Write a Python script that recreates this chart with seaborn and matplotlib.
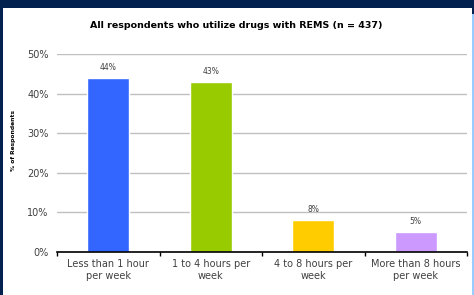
import matplotlib
matplotlib.use("Agg")
import matplotlib.pyplot as plt
import pandas as pd
import seaborn as sns
from matplotlib.patches import Rectangle

categories = ["Less than 1 hour\nper week", "1 to 4 hours per\nweek",
              "4 to 8 hours per\nweek", "More than 8 hours\nper week"]
percents = [44, 43, 8, 5]
colors = ["#3366FF", "#99CC00", "#FFCC00", "#CC99FF"]
y_ticks = [0, 10, 20, 30, 40, 50]
title = "All respondents who utilize drugs with REMS (n = 437)"

df = pd.DataFrame({"category": categories, "percent": percents})

sns.set_style("white")
plt.rcParams["font.family"] = ["DejaVu Sans"]

fig = plt.figure(figsize=(4.74, 2.95), dpi=100)
fig.patch.set_facecolor("#03214F")
# white slide panel and light blue strip on the right
fig.patches.append(Rectangle((3 / 474, 0), 469 / 474, 287 / 295,
                             transform=fig.transFigure, facecolor="white",
                             edgecolor="none", zorder=-5))
fig.patches.append(Rectangle((472 / 474, 0), 2 / 474, 281 / 295,
                             transform=fig.transFigure, facecolor="#99CCFF",
                             edgecolor="none", zorder=-5))

ax = fig.add_axes([57 / 474, 43 / 295, 410 / 474, 198 / 295])
ax.set_zorder(2)
ax.set_facecolor("none")
sns.barplot(data=df, x="category", y="percent", hue="category",
            palette=colors, saturation=1, width=0.41, legend=False,
            ax=ax, zorder=3)

ax.set_ylim(0, 50)
ax.set_xlim(-0.5, 3.5)
ax.set_yticks(y_ticks)
ax.set_yticklabels([f"{t}%" for t in y_ticks], fontsize=7, color="#404040")
ax.yaxis.grid(True, color="#C0C0C0", linewidth=1)
ax.set_axisbelow(True)
ax.tick_params(axis="y", length=0, pad=6)
ax.tick_params(axis="x", labelsize=7, labelcolor="#404040", pad=5)

# boundary ticks on the category axis
ax.set_xticks([-0.5, 0.5, 1.5, 2.5, 3.5], minor=True)
ax.tick_params(axis="x", which="minor", length=3, width=1, color="black",
               direction="out", bottom=True)
ax.tick_params(axis="x", which="major", length=0)

for s in ["left", "right", "top"]:
    ax.spines[s].set_visible(False)
ax.spines["bottom"].set_color("black")
ax.spines["bottom"].set_linewidth(1.2)
ax.spines["bottom"].set_zorder(4)

for i, v in enumerate(percents):
    ax.text(i, v + 2.7, f"{v}%", ha="center", va="center", fontsize=5.5,
            color="#404040")

ax.set_xlabel("")
ax.set_ylabel("")
fig.text(14 / 474, 1 - 140 / 295, "% of Respondents", rotation=90,
         ha="center", va="center", fontsize=4.3, fontweight="bold",
         color="black")
fig.text(236 / 474, 1 - 25 / 295, title, ha="center", va="center",
         fontsize=6.8, fontweight="bold", color="black")

fig.savefig("out.png", dpi=100, facecolor=fig.get_facecolor())
